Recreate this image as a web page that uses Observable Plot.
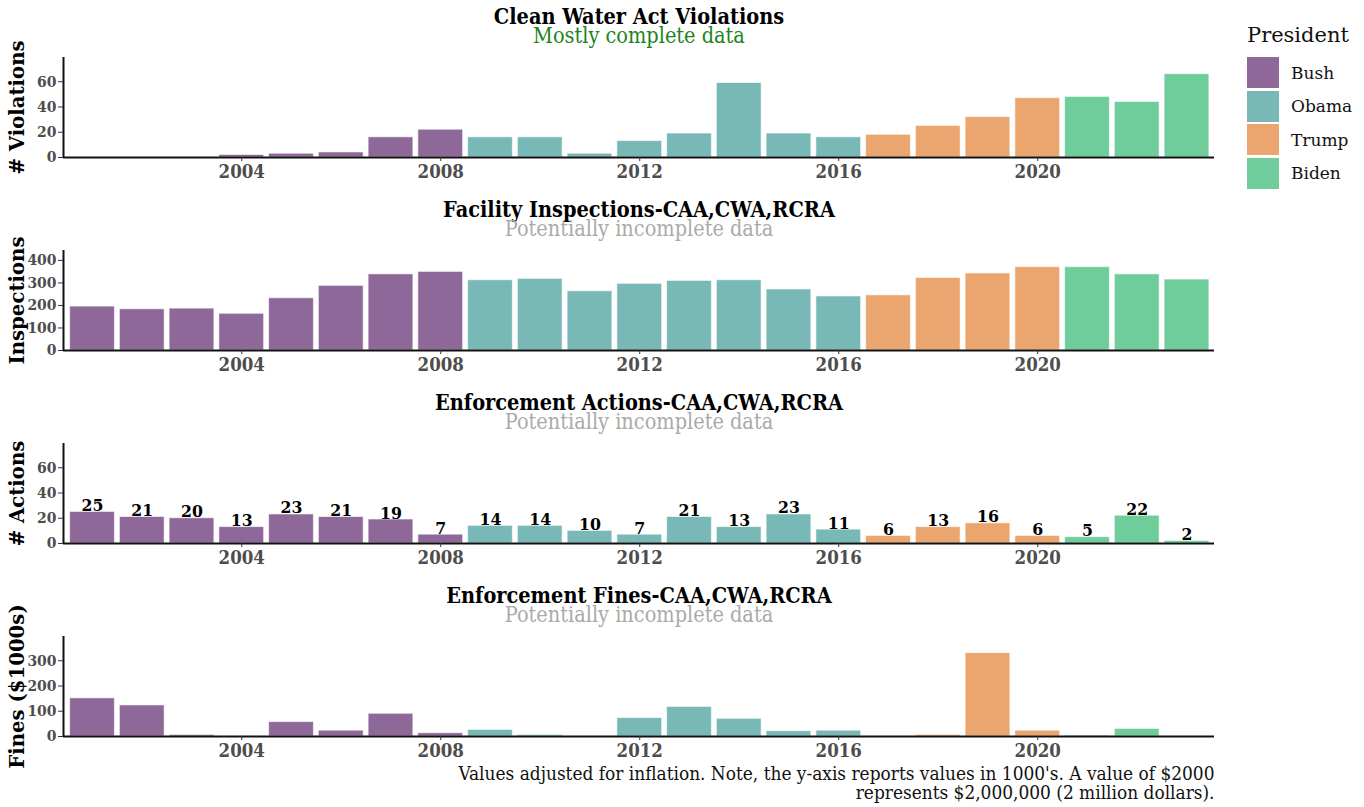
<!DOCTYPE html>
<html>
<head>
<meta charset="utf-8">
<script src="https://cdn.jsdelivr.net/npm/d3@7"></script>
<script src="https://cdn.jsdelivr.net/npm/@observablehq/plot@0.6"></script>
<style>
  html, body { margin: 0; padding: 0; background: #fff; }
  #wrap { position: relative; width: 1364px; height: 807px; }
  #wrap svg { display: block; }
  #legend { position: absolute; left: 1247px; top: 22px; font-family: "DejaVu Serif", serif; }
  #legend .ttl { font-size: 21px; line-height: 26px; height: 34px; color: #111; }
  #legend .row { display: flex; align-items: center; height: 33.5px; }
  #legend .sw { width: 32px; height: 31px; margin-right: 12px; }
  #legend .lab { font-size: 17px; color: #111; }
</style>
</head>
<body>
<div id="wrap"><div id="legend"></div></div>
<script>
const years = [2001,2002,2003,2004,2005,2006,2007,2008,2009,2010,2011,2012,2013,2014,2015,2016,2017,2018,2019,2020,2021,2022,2023];
const presidentOfYear = ["Bush","Bush","Bush","Bush","Bush","Bush","Bush","Bush","Obama","Obama","Obama","Obama","Obama","Obama","Obama","Obama","Trump","Trump","Trump","Trump","Biden","Biden","Biden"];
const presidents = ["Bush","Obama","Trump","Biden"];
const presidentColors = ["#8e6898","#78b9b8","#eba670","#6fcd9b"];

const violations  = [0,0,0,2,3,4,16,22,16,16,3,13,19,59,19,16,18,25,32,47,48,44,66];
const inspections = [195,183,186,163,232,287,338,349,312,318,263,296,309,312,271,240,245,322,342,370,370,338,315];
const actions     = [25,21,20,13,23,21,19,7,14,14,10,7,21,13,23,11,6,13,16,6,5,22,2];
const fines       = [151,123,6,0,57,23,90,13,26,6,0,73,117,70,21,23,0,6,330,23,4,30,0];

const xTicks = [2004,2008,2012,2016,2020];
const titles = ["Clean Water Act Violations","Facility Inspections-CAA,CWA,RCRA","Enforcement Actions-CAA,CWA,RCRA","Enforcement Fines-CAA,CWA,RCRA"];
const subtitles = ["Mostly complete data","Potentially incomplete data","Potentially incomplete data","Potentially incomplete data"];
const subtitleColors = ["#1b841b","#aaaaaa","#aaaaaa","#aaaaaa"];
const yLabels = ["# Violations","Inspections","# Actions","Fines ($1000s)"];
const yTicks = [[0,20,40,60],[0,100,200,300,400],[0,20,40,60],[0,100,200,300]];
const caption = "Values adjusted for inflation. Note, the y-axis reports values in 1000's. A value of $2000\nrepresents $2,000,000 (2 million dollars).";

const COND = "'DejaVu Serif Condensed', 'DejaVu Serif', serif";
const WIDE = "'DejaVu Serif', serif";

const series = [violations, inspections, actions, fines];
const yMax = [d3.max(violations)*1.2, d3.max(inspections)*1.2, d3.max(violations)*1.2, d3.max(fines)*1.2];
const xDomain = [2000.417, 2023.553];
const half = 0.45;

const wrap = document.getElementById("wrap");

series.forEach((vals, i) => {
  const data = years.map((y, j) => ({year: y, value: vals[j], president: presidentOfYear[j]}));
  const last = i === 3;
  const marks = [
    Plot.rectY(data, {x1: d => d.year - half, x2: d => d.year + half, y: "value", fill: "president", stroke: "white", strokeOpacity: 0.6, strokeWidth: 1}),
    Plot.ruleY([0], {stroke: "#111", strokeWidth: 2}),
    Plot.ruleX([xDomain[0]], {stroke: "#111", strokeWidth: 2}),
    Plot.axisX(xTicks, {tickSize: 4, tickPadding: 3, fontSize: 18.5, fontWeight: "bold", fontFamily: COND, fill: "#4d4d4d", stroke: "#333", tickFormat: d => String(d), label: null}),
    Plot.axisY(yTicks[i], {tickSize: 5, tickPadding: 2, fontSize: 15.5, fontWeight: "bold", fontFamily: COND, fill: "#4d4d4d", stroke: "#333", label: null}),
    Plot.text([titles[i]], {frameAnchor: "top", lineAnchor: "middle", dy: -40, fontSize: 21.5, fontWeight: "bold", fontFamily: COND, fill: "#000"}),
    Plot.text([subtitles[i]], {frameAnchor: "top", lineAnchor: "middle", dy: -21, fontSize: 21.5, fontFamily: COND, fill: subtitleColors[i]}),
    Plot.text([yLabels[i]], {frameAnchor: "left", textAnchor: "middle", lineAnchor: "middle", dx: -46, rotate: -90, fontSize: 19.7, fontWeight: "bold", fontFamily: WIDE, fill: "#000"})
  ];
  if (i === 2) {
    marks.push(Plot.text(data, {x: "year", y: "value", text: d => String(d.value), lineAnchor: "bottom", dy: -1, fontSize: 17.5, fontWeight: "bold", fontFamily: COND, fill: "#000"}));
  }
  if (last) {
    marks.push(Plot.text([caption], {frameAnchor: "bottom-right", textAnchor: "end", lineAnchor: "top", dy: 30, lineHeight: 1.0, fontSize: 18.9, fontFamily: COND, fill: "#111"}));
  }
  const chart = Plot.plot({
    width: 1364,
    height: last ? 228 : 193,
    marginLeft: 63,
    marginRight: 150,
    marginTop: 57,
    marginBottom: last ? 71 : 36,
    x: {type: "linear", domain: xDomain},
    y: {domain: [0, yMax[i]]},
    color: {domain: presidents, range: presidentColors},
    style: {background: "white", overflow: "visible"},
    marks
  });
  wrap.appendChild(chart);
});

const legend = document.getElementById("legend");
const t = document.createElement("div");
t.className = "ttl";
t.textContent = "President";
legend.appendChild(t);
presidents.forEach((p, k) => {
  const row = document.createElement("div");
  row.className = "row";
  const sw = document.createElement("div");
  sw.className = "sw";
  sw.style.background = presidentColors[k];
  const lab = document.createElement("div");
  lab.className = "lab";
  lab.textContent = p;
  row.appendChild(sw);
  row.appendChild(lab);
  legend.appendChild(row);
});
</script>
</body>
</html>
